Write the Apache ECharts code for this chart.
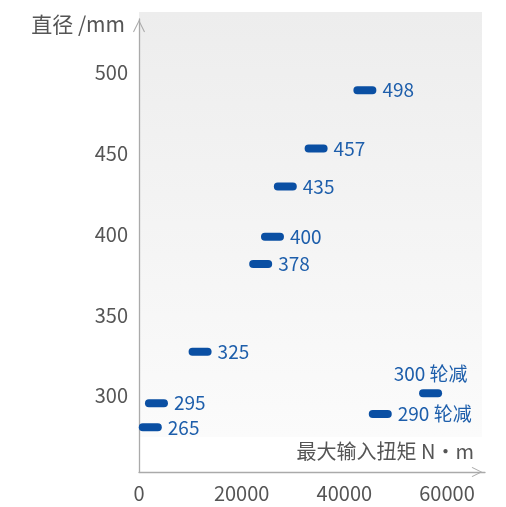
<!DOCTYPE html>
<html>
<head>
<meta charset="utf-8">
<script src="https://cdn.jsdelivr.net/npm/echarts@6/dist/echarts.min.js"></script>
<style>
html,body{margin:0;padding:0;background:#fff;}
#c{width:506px;height:507px;}
</style>
</head>
<body>
<div id="c"></div>
<script>
// Data
var torque = [44000, 34500, 28500, 26000, 23700, 11900, 3400, 2200, 56800, 47000];
var diameter = [489, 453, 429.5, 398.4, 381.5, 327.3, 295.4, 280.5, 301.6, 288.8];
var pointLabels = ['498', '457', '435', '400', '378', '325', '295', '265', '300 轮减', '290 轮减'];
var labelPos = ['right', 'right', 'right', 'right', 'right', 'right', 'right', 'right', 'top', 'right'];
var xTicks = [0, 20000, 40000, 60000];
var yTicks = [300, 350, 400, 450, 500];

var font = '"Noto Sans CJK SC", "Noto Sans", sans-serif';
var pts = torque.map(function (t, i) {
  return {
    value: [t, diameter[i]],
    label: { formatter: pointLabels[i], position: labelPos[i] }
  };
});

var chevron = 'path://M0,10 L5,0 L10,10 L9.2,10.6 L5,1.9 L0.8,10.6 Z';

var chart = echarts.init(document.getElementById('c'), null, { renderer: 'canvas' });
chart.setOption({
  animation: false,
  backgroundColor: '#ffffff',
  graphic: [{
    type: 'rect',
    z: -10,
    silent: true,
    shape: { x: 139, y: 12, width: 343, height: 425 },
    style: {
      fill: new echarts.graphic.LinearGradient(0, 0, 0, 1, [
        { offset: 0, color: '#ededed' },
        { offset: 1, color: '#fbfbfb' }
      ])
    }
  }],
  grid: { left: 139, right: 21, top: 19, bottom: 35, containLabel: false },
  xAxis: {
    type: 'value',
    min: 0,
    max: 67400,
    interval: 20000,
    name: '最大输入扭矩 N·m',
    nameLocation: 'end',
    nameGap: -11,
    nameTextStyle: {
      color: '#555', fontSize: 20, fontFamily: font,
      align: 'right', verticalAlign: 'bottom', padding: [0, 0, 11, 0]
    },
    axisLine: {
      show: true,
      lineStyle: { color: '#aaaaaa', width: 1.3 },
      symbol: ['none', chevron],
      symbolSize: [10, 16],
      symbolOffset: [0, -8]
    },
    axisTick: { show: false },
    splitLine: { show: false },
    axisLabel: {
      color: '#555', fontSize: 20, fontFamily: font, margin: 11,
      showMaxLabel: false,
      formatter: function (v) { return xTicks.indexOf(v) >= 0 ? String(v) : ''; }
    }
  },
  yAxis: {
    type: 'value',
    min: 252.9,
    max: 533,
    splitNumber: 5,
    name: '直径 /mm',
    nameLocation: 'end',
    nameGap: -5,
    nameTextStyle: {
      color: '#555', fontSize: 21, fontFamily: font,
      align: 'right', verticalAlign: 'middle', padding: [0, 14, 0, 0]
    },
    axisLine: {
      show: true,
      lineStyle: { color: '#aaaaaa', width: 1.3 },
      symbol: ['none', chevron],
      symbolSize: [12, 14],
      symbolOffset: [0, -7]
    },
    axisTick: { show: false },
    splitLine: { show: false },
    axisLabel: {
      color: '#555', fontSize: 20, fontFamily: font, margin: 11,
      showMinLabel: false, showMaxLabel: false,
      formatter: function (v) { return yTicks.indexOf(v) >= 0 ? String(v) : ''; }
    }
  },
  series: [{
    type: 'scatter',
    symbol: 'path://M4,0 H19 A4,4 0 0 1 19,8 H4 A4,4 0 0 1 4,0 Z',
    symbolSize: [23, 8],
    itemStyle: { color: '#0a4fa3', opacity: 1 },
    label: {
      show: true,
      color: '#1d5eab',
      fontSize: 19,
      fontFamily: font,
      distance: 6
    },
    data: pts
  }]
});
</script>
</body>
</html>
